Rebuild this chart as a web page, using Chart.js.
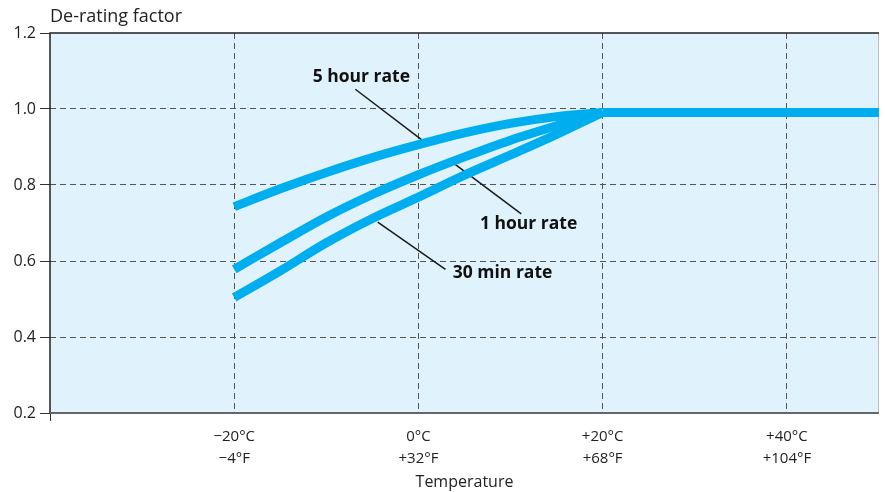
<!DOCTYPE html>
<html>
<head>
<meta charset="utf-8">
<script src="https://cdn.jsdelivr.net/npm/chart.js@4.4.0/dist/chart.umd.min.js"></script>
<style>
  html, body { margin: 0; padding: 0; background: #fff; }
</style>
</head>
<body>
<canvas id="deratingChart" width="885" height="492"></canvas>
<script>
// temperature in degC, de-rating factor
const temps = [-20, -15, -10, -5, 0, 5, 10, 15, 20];
const rate5h = [0.743, 0.790, 0.833, 0.872, 0.906, 0.937, 0.962, 0.980, 0.991];
const rate1h = [0.578, 0.648, 0.716, 0.775, 0.827, 0.874, 0.918, 0.956, 0.991];
const rate30m = [0.504, 0.574, 0.648, 0.712, 0.768, 0.826, 0.879, 0.933, 0.991];
// above +20 degC all three rates share the same flat line
const flatTemps = [20, 50];
const flatRate = [0.991, 0.991];

const xTicks = [-40, -20, 0, 20, 40];
const celsiusLabels = ["", "\u221220°C", "0°C", "+20°C", "+40°C"];
const fahrenheitLabels = ["", "\u22124°F", "+32°F", "+68°F", "+104°F"];
const yTicks = [0.2, 0.4, 0.6, 0.8, 1.0, 1.2];

// callout label + leader line, in data units (temp, factor)
const callouts = [
    { text: "5 hour rate", at: [-6.2, 1.083], from: [-6.85, 1.052], to: [0.4, 0.918] },
    { text: "1 hour rate", at: [11.96, 0.697], from: [3.84, 0.857], to: [11.16, 0.724] },
    { text: "30 min rate", at: [9.13, 0.568], from: [-4.42, 0.702], to: [2.93, 0.578] },
];

const FONT = "'Open Sans', 'Noto Sans', sans-serif";
const LINE = "#00aeef";

const framePlugin = {
    id: "frame",
    beforeDraw(chart) {
        const { ctx, chartArea: a } = chart;
        ctx.save();
        ctx.fillStyle = "#e0f2fc";
        ctx.fillRect(a.left, a.top, a.right - a.left, a.bottom - a.top);
        ctx.restore();
    },
    beforeDatasetsDraw(chart) {
        const { ctx, chartArea: a, scales } = chart;
        ctx.save();
        // frame
        ctx.strokeStyle = "#bbb";
        ctx.lineWidth = 1;
        ctx.beginPath();
        ctx.moveTo(a.right - 0.5, a.top);
        ctx.lineTo(a.right - 0.5, a.bottom);
        ctx.stroke();
        ctx.strokeStyle = "#222";
        ctx.lineWidth = 1.5;
        ctx.beginPath();
        ctx.moveTo(a.right, a.top);
        ctx.lineTo(a.left, a.top);
        ctx.lineTo(a.left, a.bottom);
        ctx.stroke();
        ctx.strokeStyle = "#666";
        ctx.lineWidth = 2;
        ctx.beginPath();
        ctx.moveTo(a.left, a.bottom);
        ctx.lineTo(a.right, a.bottom);
        ctx.stroke();

        // leader lines
        ctx.strokeStyle = "#1a1a1a";
        ctx.lineWidth = 1.5;
        callouts.forEach((c) => {
            ctx.beginPath();
            ctx.moveTo(scales.x.getPixelForValue(c.from[0]), scales.y.getPixelForValue(c.from[1]));
            ctx.lineTo(scales.x.getPixelForValue(c.to[0]), scales.y.getPixelForValue(c.to[1]));
            ctx.stroke();
        });
        ctx.restore();
    },
    afterDatasetsDraw(chart) {
        const { ctx, chartArea: a, scales } = chart;
        ctx.save();
        ctx.fillStyle = "#111";
        ctx.font = "bold 17.5px " + FONT;
        ctx.textAlign = "center";
        ctx.textBaseline = "middle";
        callouts.forEach((c) => {
            ctx.fillText(c.text, scales.x.getPixelForValue(c.at[0]), scales.y.getPixelForValue(c.at[1]));
        });

        // y axis title, sits above the plot
        ctx.fillStyle = "#222";
        ctx.font = "18px " + FONT;
        ctx.textAlign = "left";
        ctx.fillText("De-rating factor", a.left, a.top - 16);
        ctx.restore();
    },
};

const makeSeries = (label, xs, values) => ({
    label,
    data: xs.map((t, i) => ({ x: t, y: values[i] })),
    borderColor: LINE,
    borderWidth: 9,
    borderCapStyle: "butt",
    pointRadius: 0,
    cubicInterpolationMode: "monotone",
    fill: false,
});

new Chart(document.getElementById("deratingChart"), {
    type: "line",
    data: {
        datasets: [
            makeSeries("30 min rate", temps, rate30m),
            makeSeries("1 hour rate", temps, rate1h),
            makeSeries("5 hour rate", temps, rate5h),
            makeSeries("all rates", flatTemps, flatRate),
        ],
    },
    options: {
        responsive: false,
        animation: false,
        devicePixelRatio: 1,
        layout: { padding: { top: 33, right: 6, left: 0, bottom: 0 } },
        plugins: { legend: { display: false }, tooltip: { enabled: false } },
        scales: {
            x: {
                type: "linear",
                min: -40,
                max: 50,
                afterBuildTicks: (s) => { s.ticks = xTicks.map((v) => ({ value: v })); },
                afterFit: (s) => { s.height = 79; },
                border: { display: false, dash: [6, 4] },
                grid: {
                    color: (c) => (c.tick && c.tick.value === -40 ? "transparent" : "#555"),
                    tickColor: (c) => (c.tick && c.tick.value === -40 ? "#333" : "transparent"),
                    tickLength: 8,
                    lineWidth: 1,
                },
                ticks: {
                    autoSkip: false,
                    maxRotation: 0,
                    padding: 5,
                    color: "#222",
                    font: { family: FONT, size: 15, lineHeight: 1.45 },
                    callback: (v) => {
                        const i = xTicks.indexOf(v);
                        return i <= 0 ? "" : [celsiusLabels[i], fahrenheitLabels[i]];
                    },
                },
                title: {
                    display: true,
                    text: "Temperature",
                    color: "#222",
                    font: { family: FONT, size: 16 },
                    padding: { top: 0, bottom: 0 },
                },
            },
            y: {
                min: 0.2,
                max: 1.2,
                afterBuildTicks: (s) => { s.ticks = yTicks.map((v) => ({ value: v })); },
                afterFit: (s) => { s.width = 50; },
                border: { display: false, dash: [6, 4] },
                grid: {
                    color: (c) => {
                        const v = c.tick ? c.tick.value : 0;
                        return Math.abs(v - 0.2) < 1e-6 || Math.abs(v - 1.2) < 1e-6 ? "transparent" : "#555";
                    },
                    tickColor: "#333",
                    tickLength: 10,
                    lineWidth: 1,
                },
                ticks: {
                    padding: 4,
                    color: "#222",
                    font: { family: FONT, size: 16 },
                    callback: (v) => v.toFixed(1),
                },
            },
        },
    },
    plugins: [framePlugin],
});
</script>
</body>
</html>
